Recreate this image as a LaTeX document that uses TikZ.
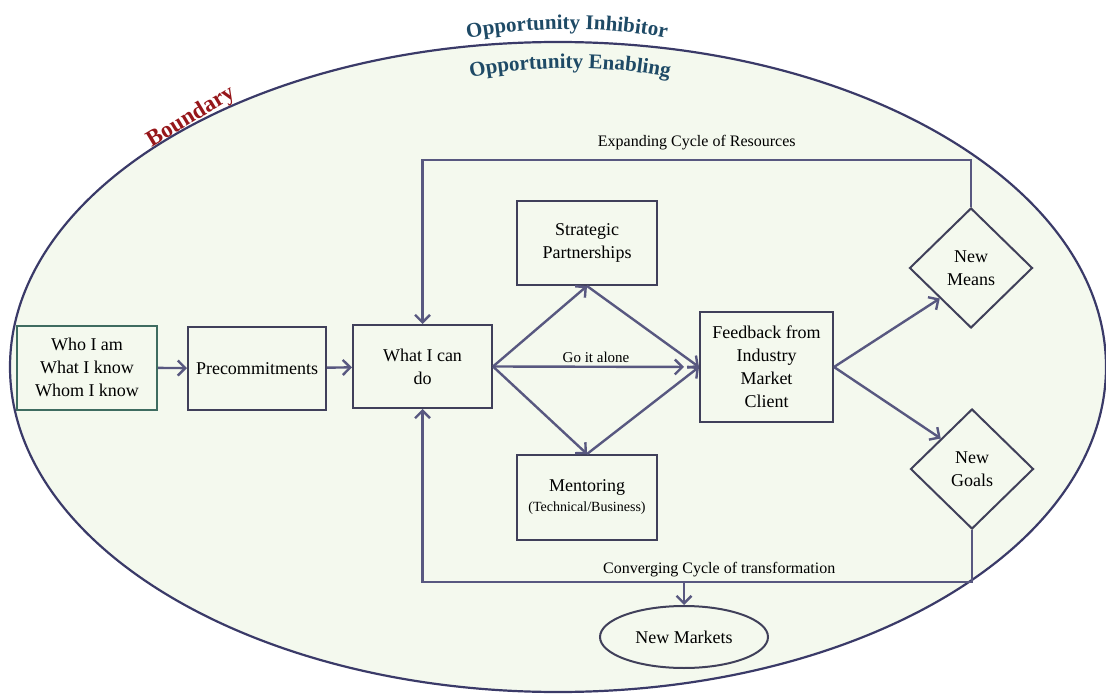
\documentclass[tikz,border=0pt]{standalone}
\usepackage{fontspec}
\setmainfont{Liberation Serif}
\usepackage{xcolor}
\usetikzlibrary{shapes,arrows.meta,decorations.text,positioning}

\definecolor{linecol}{RGB}{88,88,128}
\definecolor{boxcol}{RGB}{64,64,90}
\definecolor{whocol}{RGB}{62,108,96}
\definecolor{areacol}{RGB}{244,249,238}
\definecolor{titlecol}{RGB}{30,74,102}
\definecolor{bndcol}{RGB}{150,22,26}
\definecolor{rimcol}{RGB}{58,58,104}

\begin{document}
\begin{tikzpicture}[x=1pt,y=-1pt,
		box/.style={draw=boxcol,line width=2pt,rectangle,minimum width=140pt,minimum height=84pt,align=center,font=\fontsize{18}{23}\selectfont,inner sep=2pt},
		choice/.style={draw=boxcol,line width=2pt,diamond,aspect=1,minimum width=123pt,minimum height=120pt,inner sep=0pt,align=center,font=\fontsize{18}{23}\selectfont},
		conn/.style={draw=linecol,line width=2.4pt,-{Straight Barb[length=7.5pt,width=15pt]}},
		lbl/.style={font=\fontsize{16}{19}\selectfont,inner sep=2pt}]
		\useasboundingbox (0,0) rectangle (1106,695);
		%Boundary
			\draw[rimcol,line width=2.2pt,fill=areacol] (558,367) ellipse [x radius=548,y radius=325];
			\path[decorate,decoration={text along path,text align=center,text color=titlecol,
				text={|\bfseries\fontsize{21}{25}\selectfont|Opportunity Inhibitor}}]
				(440,45) .. controls (510,24) and (624,24) .. (694,45);
			\path[decorate,decoration={text along path,text align=center,text color=titlecol,
				text={|\bfseries\fontsize{21}{25}\selectfont|Opportunity Enabling}}]
				(445,84) .. controls (515,63) and (625,63) .. (695,84);
			\node[rotate=31,text=bndcol,font=\bfseries\fontsize{23}{27}\selectfont,inner sep=0pt] (bnd) at (191,117) {Boundary};
		%Boxes
			\node[box,draw=whocol] (who) at (87,367.5) {Who I am\\What I know\\Whom I know};
			\node[box,minimum width=138pt,minimum height=83pt] (precom) at (257,368.5) {Precommitments};
			\node[box,minimum width=139pt,minimum height=83pt] (whatdo) at (422.5,366.5) {What I can\\do};
			\node[box] (strat) at (587,243) {Strategic\\Partnerships};
			\node[box,minimum height=85pt] (mentor) at (587,497.5) {Mentoring\\[-3pt]{\fontsize{14}{17}\selectfont(Technical/Business)}};
			\node[box,minimum width=133pt,minimum height=110pt] (feed) at (766.5,367) {Feedback from\\Industry\\Market\\Client};
		%Outcomes
			\node[choice] (nmeans) at (971,268) {New\\Means};
			\node[choice] (ngoals) at (972,469) {New\\Goals};
			\node[draw=boxcol,line width=2pt,ellipse,minimum width=168pt,minimum height=62pt,font=\fontsize{18}{23}\selectfont] (markets) at (684,637) {New Markets};
		%Arrows
			\draw[conn] (who) -- (precom);
			\draw[conn] (precom) -- (whatdo);
			\draw[conn] (whatdo.east) -- (strat.south);
			\draw[conn] (whatdo.east) -- (mentor.north);
			\draw[conn,shorten >=15pt] (whatdo.east) -- node[above,font=\fontsize{15}{18}\selectfont]{Go it alone} (feed.west);
			\draw[conn] (strat.south) -- (feed.west);
			\draw[conn] (mentor.north) -- (feed.west);
			\draw[conn] (feed.east) -- (nmeans.south west);
			\draw[conn] (feed.east) -- (ngoals.north west);
		%Cycles
			\draw[conn] (nmeans.north) -- ++(0,-47) -| node[pos=0.25,above=7pt,lbl]{Expanding Cycle of Resources} (whatdo.north);
			\draw[conn] (ngoals.south) -- ++(0,52) coordinate (cvbase) -| node[pos=0.23,above=2pt,lbl]{Converging Cycle of transformation} (whatdo.south);
			\draw[conn] (markets.north |- cvbase) -- (markets.north);
	\end{tikzpicture}
\end{document}
